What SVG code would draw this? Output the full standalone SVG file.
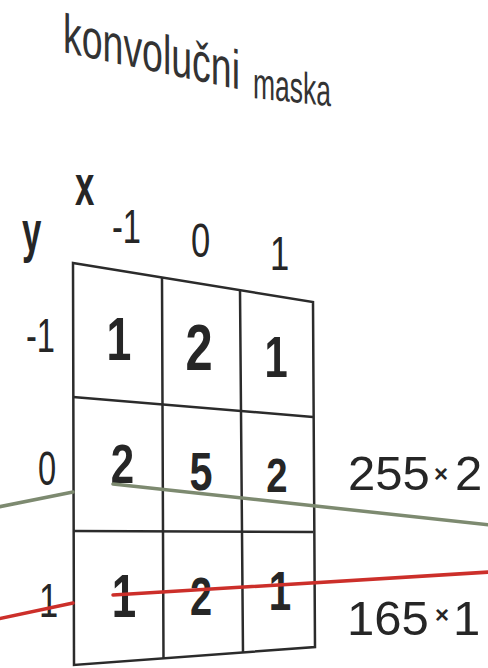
<svg xmlns="http://www.w3.org/2000/svg" width="488" height="668" viewBox="0 0 488 668">
  <style>
    text { font-family: "Liberation Sans", Arial, sans-serif; fill: #262626; }
    .title { fill: #333333; }
    .axis { font-weight: bold; font-size: 58px; }
    .lbl { font-size: 48px; }
    .cell { font-weight: bold; text-anchor: middle; }
    .res { font-size: 49px; }
    .times { font-size: 24px; text-anchor: middle; font-weight: bold; }
    .grid { fill: none; stroke: #2b2b2b; stroke-width: 2.5; stroke-linejoin: miter; }
    .green { fill: none; stroke: #7d8a70; stroke-width: 3.5; stroke-linecap: round; }
    .red { fill: none; stroke: #cc2f2a; stroke-width: 3.5; stroke-linecap: round; }
  </style>

  <g id="title">
    <text class="title" transform="translate(63,52) skewY(12)" font-size="55" textLength="177" lengthAdjust="spacingAndGlyphs">konvolučni</text>
    <text class="title" transform="translate(253,98) skewY(6)" font-size="44" textLength="78" lengthAdjust="spacingAndGlyphs">maska</text>
  </g>

  <g id="axis-x">
    <text class="axis" transform="translate(75,205) scale(0.6,1)">x</text>
  </g>
  <g id="axis-y">
    <text class="axis" transform="translate(22,251) scale(0.6,1)">y</text>
  </g>

  <g id="col-labels">
    <text class="lbl" transform="translate(112,243) scale(0.68,1)">-1</text>
    <text class="lbl" font-size="45" transform="translate(191,257) scale(0.72,1)">0</text>
    <text class="lbl" font-size="38" transform="translate(270,270) scale(0.72,1)">1</text>
  </g>

  <g id="row-labels">
    <text class="lbl" transform="translate(26,352) scale(0.68,1)">-1</text>
    <text class="lbl" font-size="51" transform="translate(38,485) scale(0.68,1)">0</text>
    <text class="lbl" transform="translate(39,617) scale(0.72,1)">1</text>
  </g>

  <g id="mask-grid">
    <path class="grid" d="M73,263 L313,302 L315,647 L74,665 Z"/>
    <path class="grid" d="M162,277.5 L163.5,658.4 M240,290.1 L243,652.4"/>
    <path class="grid" d="M73,397 L313,417 M73,531 L313,532"/>
  </g>

  <g id="cells">
    <g id="cell-m1-m1"><text class="cell" font-size="62" transform="translate(119,360) scale(0.72,1)">1</text></g>
    <g id="cell-0-m1"><text class="cell" font-size="65" transform="translate(199,370) scale(0.75,1)">2</text></g>
    <g id="cell-1-m1"><text class="cell" font-size="58" transform="translate(276,377) scale(0.72,1)">1</text></g>
    <g id="cell-m1-0"><text class="cell" font-size="56" transform="translate(122.5,483) scale(0.75,1)">2</text></g>
    <g id="cell-0-0"><text class="cell" font-size="53" transform="translate(201,490) scale(0.78,1)">5</text></g>
    <g id="cell-1-0"><text class="cell" font-size="49" transform="translate(277,492) scale(0.78,1)">2</text></g>
    <g id="cell-m1-1"><text class="cell" font-size="61" transform="translate(124,617) scale(0.72,1)">1</text></g>
    <g id="cell-0-1"><text class="cell" font-size="53" transform="translate(201,615) scale(0.75,1)">2</text></g>
    <g id="cell-1-1"><text class="cell" font-size="56" transform="translate(280,610) scale(0.72,1)">1</text></g>
  </g>

  <g id="connectors">
    <path class="green" d="M-2,507 L73,492"/>
    <path class="green" d="M113,484 L490,525"/>
    <path class="red" d="M-2,619 L73,603"/>
    <path class="red" d="M113,595 L490,572"/>
  </g>

  <g id="result-green">
    <text class="res" x="348" y="490">255</text>
    <text class="times" x="441" y="482">×</text>
    <text class="res" x="455" y="490">2</text>
  </g>
  <g id="result-red">
    <text class="res" x="347" y="635">165</text>
    <text class="times" x="442" y="623">×</text>
    <text class="res" x="453" y="635">1</text>
  </g>
</svg>
